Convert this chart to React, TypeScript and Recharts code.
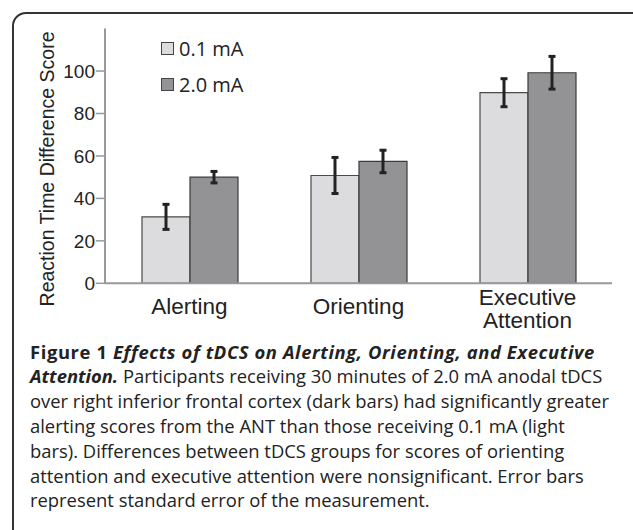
import { BarChart, Bar, XAxis, YAxis, Legend, ErrorBar } from 'recharts'

const categories = ['Alerting', 'Orienting', 'Executive\nAttention']
const lowCurrent = [31.3, 50.8, 89.8]
const lowCurrentErr = [5.9, 8.5, 6.6]
const highCurrent = [50.0, 57.4, 99.2]
const highCurrentErr = [2.7, 5.3, 7.7]
const yTicks = [0, 20, 40, 60, 80, 100]

const chartData = categories.map((category, i) => ({
  category,
  low: lowCurrent[i],
  lowErr: lowCurrentErr[i],
  high: highCurrent[i],
  highErr: highCurrentErr[i],
}))

const axisFont = '"Liberation Sans", Arial, sans-serif'
const captionFont = '"Open Sans", "Noto Sans", sans-serif'

function CategoryTick({ x, y, payload }: any) {
  const lines = String(payload.value).split('\n')
  const first = lines.length === 1 ? 22.5 : 14
  return (
    <text x={x} y={y} textAnchor="middle" fill="#222" fontSize={22.5} fontFamily={axisFont}>
      {lines.map((line, i) => (
        <tspan key={line} x={x} y={y + first + i * 23}>
          {line}
        </tspan>
      ))}
    </text>
  )
}

function YLabel({ viewBox }: any) {
  const cx = viewBox.x + 47
  const cy = viewBox.y + viewBox.height / 2 + 13
  return (
    <text
      x={cx}
      y={cy}
      transform={`rotate(-90 ${cx} ${cy})`}
      textAnchor="middle"
      dominantBaseline="central"
      fill="#222"
      fontSize={19.5}
      fontFamily={axisFont}
    >
      Reaction Time Difference Score
    </text>
  )
}

function LegendBox({ payload }: any) {
  return (
    <div style={{ fontFamily: captionFont, fontSize: 20, color: '#222' }}>
      {(payload ?? []).map((entry: any) => (
        <div key={entry.value} style={{ display: 'flex', alignItems: 'center', height: 35.5 }}>
          <span
            style={{
              display: 'inline-block',
              width: 11,
              height: 11,
              background: entry.color,
              border: '1.5px solid #444',
              marginRight: 5,
            }}
          />
          <span>{entry.value}</span>
        </div>
      ))}
    </div>
  )
}

export default function App() {
  return (
    <div
      style={{
        position: 'fixed',
        left: 0,
        top: 0,
        width: 633,
        height: 530,
        overflow: 'hidden',
        background: '#fff',
      }}
    >
      <div
        style={{
          position: 'absolute',
          left: 12,
          top: 12,
          width: 640,
          height: 560,
          border: '2px solid #333',
          borderRadius: 14,
          boxSizing: 'border-box',
        }}
      />
      <div style={{ position: 'absolute', left: 0, top: 0 }}>
        <BarChart
          width={633}
          height={340}
          data={chartData}
          margin={{ top: 28.6, right: 21, left: 0, bottom: 6.7 }}
          barGap={0}
          barSize={48}
        >
          <XAxis
            dataKey="category"
            height={50}
            tickLine={false}
            axisLine={{ stroke: '#999', strokeWidth: 2 }}
            tick={<CategoryTick />}
            interval={0}
          />
          <YAxis
            width={105}
            domain={[0, 120]}
            ticks={yTicks}
            tickSize={9}
            tickMargin={1}
            tickLine={{ stroke: '#999', strokeWidth: 1.5 }}
            axisLine={{ stroke: '#999', strokeWidth: 2 }}
            tick={{ fill: '#222', fontSize: 19, fontFamily: axisFont }}
            label={{ content: <YLabel /> }}
          />
          <Legend
            layout="vertical"
            align="center"
            verticalAlign="middle"
            wrapperStyle={{ position: 'absolute', left: 161, top: 31, width: 'auto', height: 'auto' }}
            content={<LegendBox />}
          />
          <Bar
            dataKey="low"
            name="0.1 mA"
            fill="#dcdcde"
            stroke="#4a4a4a"
            strokeWidth={1.2}
            isAnimationActive={false}
          >
            <ErrorBar dataKey="lowErr" width={3.5} stroke="#222" strokeWidth={3} direction="y" />
          </Bar>
          <Bar
            dataKey="high"
            name="2.0 mA"
            fill="#939396"
            stroke="#3a3a3a"
            strokeWidth={1.2}
            isAnimationActive={false}
          >
            <ErrorBar dataKey="highErr" width={3.5} stroke="#222" strokeWidth={3} direction="y" />
          </Bar>
        </BarChart>
      </div>
      <div
        style={{
          position: 'absolute',
          left: 30,
          top: 339.6,
          fontFamily: captionFont,
          fontSize: 18.4,
          lineHeight: '24.8px',
          color: '#222',
          whiteSpace: 'nowrap',
        }}
      >
        <div style={{ letterSpacing: 0.6 }}>
          <b>Figure 1</b> <b><i>Effects of tDCS on Alerting, Orienting, and Executive</i></b>
        </div>
        <div>
          <b><i>Attention.</i></b> Participants receiving 30 minutes of 2.0 mA anodal tDCS
        </div>
        <div>over right inferior frontal cortex (dark bars) had significantly greater</div>
        <div>alerting scores from the ANT than those receiving 0.1 mA (light</div>
        <div>bars). Differences between tDCS groups for scores of orienting</div>
        <div>attention and executive attention were nonsignificant. Error bars</div>
        <div>represent standard error of the measurement.</div>
      </div>
    </div>
  )
}
